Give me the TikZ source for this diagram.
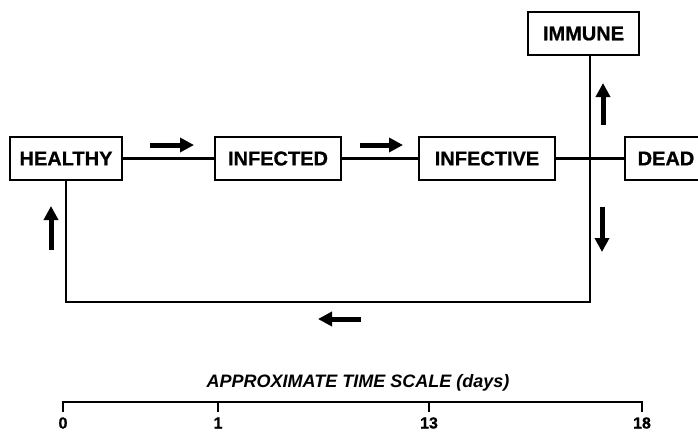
\documentclass[tikz,border=0pt]{standalone}
\usepackage{fontspec}
\setmainfont{Liberation Sans}[BoldFeatures={FakeBold=0.8}]
\usetikzlibrary{arrows.meta}

\begin{document}
\begin{tikzpicture}[x=1pt,y=-1pt,
    stage/.style={draw,line width=2.2pt,minimum height=43pt,inner sep=0pt,
      font=\fontsize{20}{20}\selectfont\bfseries},
    link/.style={line width=2.4pt},
    flow/.style={line width=5pt,-{Triangle[width=14pt,length=14pt]}}]
    \useasboundingbox (0,0) rectangle (698,432);

    % 各阶段方框
    \node [stage,minimum width=112pt] (healthy) at (66,158.5) {HEALTHY};
    \node [stage,minimum width=126pt] (infected) at (278,158.5) {INFECTED};
    \node [stage,minimum width=136pt] (infective) at (487,158.5) {INFECTIVE};
    \node [stage,minimum width=111pt] (immune) at (583.5,33.5) {IMMUNE};
    \node [stage,minimum width=82pt] (dead) at (666,158.5) {DEAD};

    % 连线
    \coordinate (loop) at (590,302);
    \draw [link] (healthy) -- (infected);
    \draw [link] (infected) -- (infective);
    \draw [link] (infective) -- (dead);
    \draw [link] (immune.south -| loop) -- (loop) -| (healthy.south);

    % 方向箭头
    \draw [flow] (150,145) -- (194,145);
    \draw [flow] (360,145) -- (403,145);
    \draw [flow] (603,125) -- (603,83);
    \draw [flow] (602,207) -- (602,252);
    \draw [flow] (361,319) -- (318,319);
    \draw [flow] (51,250) -- (51,206);

    % 时间轴
    \node [font=\fontsize{18}{18}\selectfont\bfseries\itshape] (title) at (358,383)
      {APPROXIMATE TIME SCALE (days)};
    \draw [line width=2pt] (63,402) -- (642,402);
    \foreach \x/\t in {63/0,218/1,429/13,642/18} {
      \draw [line width=2pt] (\x,401) -- (\x,412);
      \node [font=\fontsize{16}{16}\selectfont\bfseries] at (\x,423) {\t};
    }
\end{tikzpicture}
\end{document}
